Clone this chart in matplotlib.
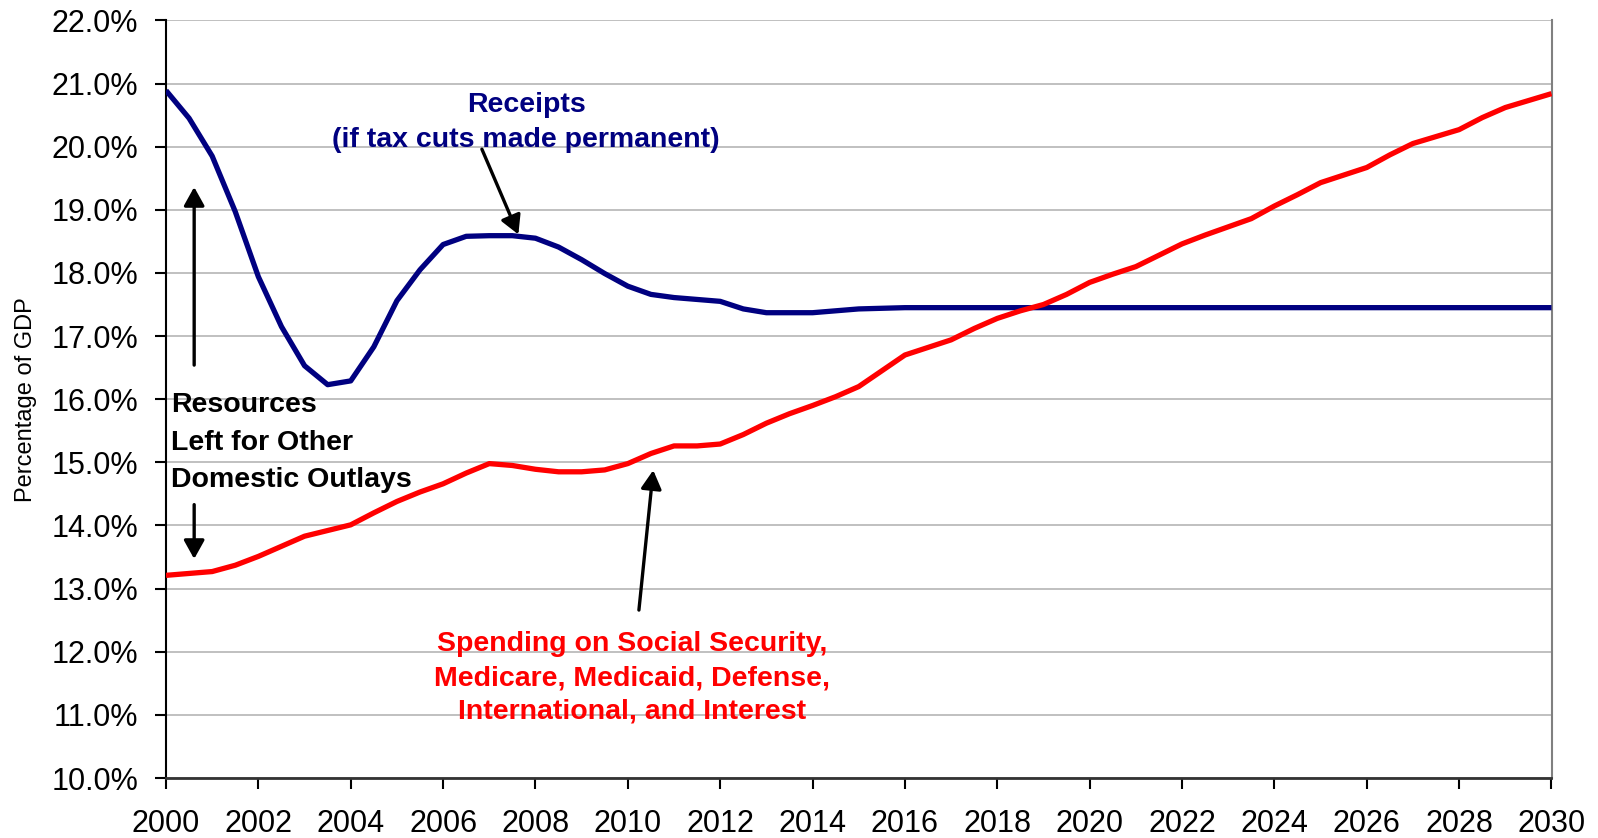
import numpy as np
import matplotlib
matplotlib.use('Agg')
import matplotlib.pyplot as plt
from matplotlib.ticker import FuncFormatter

plt.rcParams['font.family'] = ['Liberation Sans', 'DejaVu Sans']

# half-year steps, 2000 to 2030
years = np.arange(2000, 2030.01, 0.5)

# receipts as % of GDP (tax cuts made permanent)
receipts = [20.89, 20.45, 19.85, 18.97, 17.94, 17.15, 16.53, 16.23, 16.29, 16.83,
            17.56, 18.05, 18.45, 18.58, 18.59, 18.59, 18.55, 18.41, 18.21, 17.99,
            17.79, 17.66, 17.61, 17.58, 17.55, 17.43, 17.37, 17.37, 17.37, 17.40,
            17.43, 17.44, 17.45, 17.45, 17.45, 17.45, 17.45, 17.45, 17.45, 17.45,
            17.45, 17.45, 17.45, 17.45, 17.45, 17.45, 17.45, 17.45, 17.45, 17.45,
            17.45, 17.45, 17.45, 17.45, 17.45, 17.45, 17.45, 17.45, 17.45, 17.45,
            17.45]

# social security, medicare, medicaid, defense, international, interest
spending = [13.21, 13.24, 13.27, 13.37, 13.51, 13.67, 13.83, 13.92, 14.01, 14.20,
            14.38, 14.53, 14.66, 14.83, 14.98, 14.95, 14.89, 14.85, 14.85, 14.88,
            14.98, 15.14, 15.26, 15.26, 15.29, 15.44, 15.62, 15.77, 15.90, 16.04,
            16.20, 16.45, 16.70, 16.82, 16.94, 17.12, 17.28, 17.40, 17.50, 17.66,
            17.85, 17.98, 18.10, 18.28, 18.46, 18.60, 18.73, 18.86, 19.06, 19.24,
            19.43, 19.55, 19.67, 19.87, 20.05, 20.16, 20.27, 20.46, 20.62, 20.73,
            20.84]

xticks = np.arange(2000, 2031, 2)
yticks = np.arange(10, 22.01, 1)

receipts_label = ['Receipts', '(if tax cuts made permanent)']
resources_label = ['Resources', 'Left for Other', 'Domestic Outlays']
spending_label = ['Spending on Social Security,', 'Medicare, Medicaid, Defense,',
                  'International, and Interest']

fig = plt.figure(figsize=(15.98, 8.38), dpi=100)
ax = fig.add_axes([166/1598, 60/838, 1385.5/1598, 757.6/838])

ax.plot(years, receipts, color='#000080', lw=3.8, solid_capstyle='butt', zorder=3)
ax.plot(years, spending, color='#FF0000', lw=3.8, solid_capstyle='butt', zorder=3)

ax.set_xlim(2000, 2030)
ax.set_ylim(10, 22)
ax.set_xticks(xticks)
ax.set_yticks(yticks)
ax.yaxis.set_major_formatter(FuncFormatter(lambda v, p: '%.1f%%' % v))
ax.tick_params(axis='both', labelsize=22, length=8, width=1.5, color='black')
ax.tick_params(axis='x', pad=14)
ax.tick_params(axis='y', pad=12)

ax.grid(axis='y', color='#C0C0C0', lw=1.4, zorder=0)
ax.set_axisbelow(True)
ax.spines['top'].set_visible(False)
ax.spines['right'].set_color('#808080')
ax.spines['right'].set_linewidth(1.5)
ax.spines['left'].set_linewidth(1.5)
ax.spines['bottom'].set_color('#333333')
ax.spines['bottom'].set_linewidth(2)

ax.set_ylabel('Percentage of GDP', fontsize=17)
ax.yaxis.set_label_coords(-0.093, 0.5)

# annotation text
for txt, y in zip(receipts_label, [20.66, 20.10]):
    ax.text(2007.8, y, txt, color='#000080', fontsize=20.5, fontweight='bold',
            ha='center', va='center', zorder=4)
for txt, y in zip(resources_label, [15.91, 15.31, 14.72]):
    ax.text(2000.11, y, txt, color='black', fontsize=20.5, fontweight='bold',
            ha='left', va='center', zorder=4)
for txt, y in zip(spending_label, [12.13, 11.58, 11.05]):
    ax.text(2010.09, y, txt, color='#FF0000', fontsize=20.5, fontweight='bold',
            ha='center', va='center', zorder=4)

# arrows
arrow = dict(arrowstyle='-|>,head_length=0.45,head_width=0.25', mutation_scale=25,
             color='black', lw=2.4, shrinkA=0, shrinkB=0)
ax.annotate('', xy=(2000.61, 19.36), xytext=(2000.61, 16.54), arrowprops=arrow, zorder=5)
ax.annotate('', xy=(2000.61, 13.47), xytext=(2000.61, 14.33), arrowprops=arrow, zorder=5)
ax.annotate('', xy=(2007.63, 18.61), xytext=(2006.84, 19.96), arrowprops=arrow, zorder=5)
ax.annotate('', xy=(2010.55, 14.875), xytext=(2010.24, 12.66), arrowprops=arrow, zorder=5)

fig.savefig('out.png', dpi=100)
